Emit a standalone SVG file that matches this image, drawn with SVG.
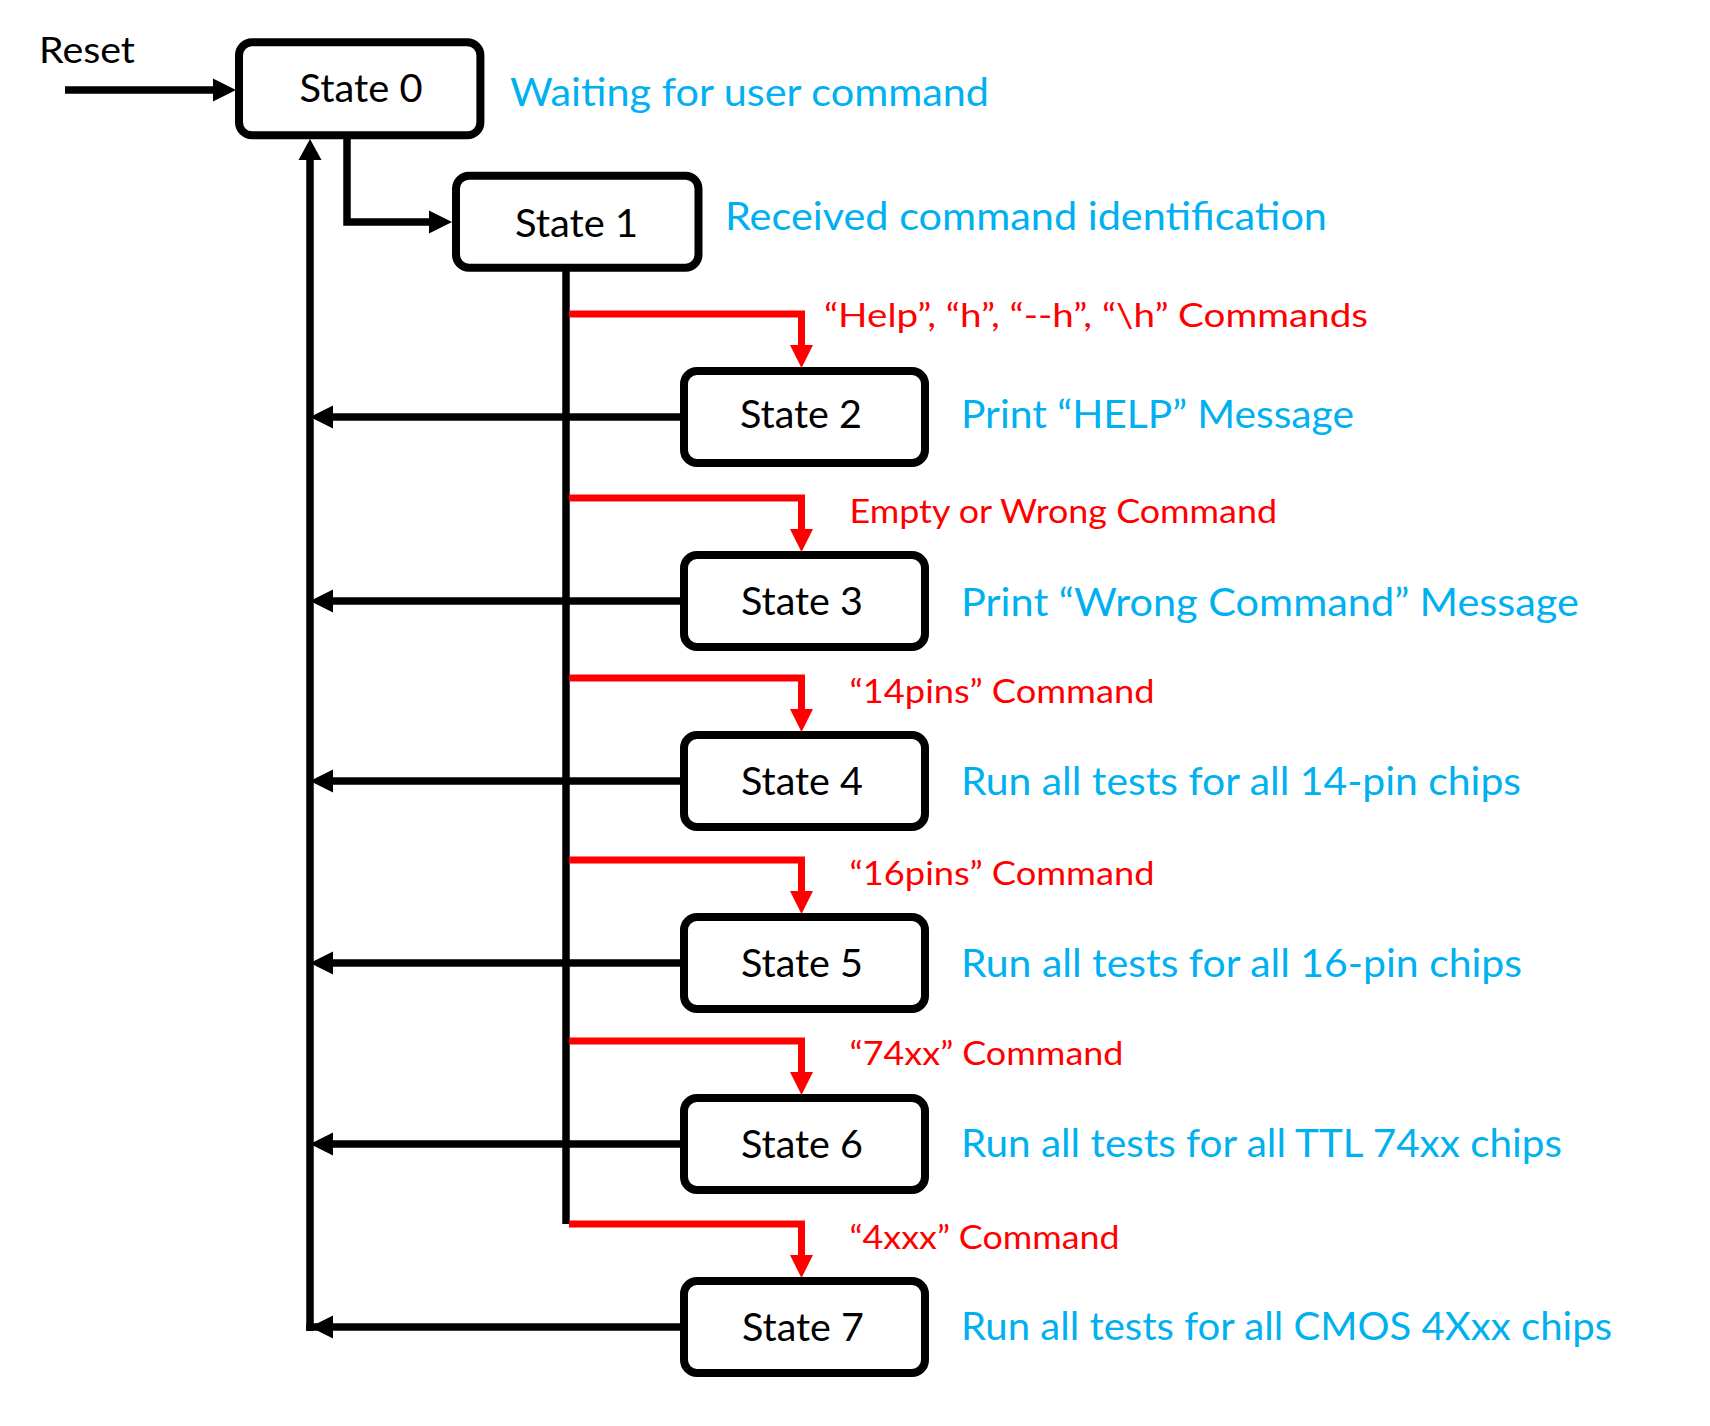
<svg xmlns="http://www.w3.org/2000/svg" width="1710" height="1426" viewBox="0 0 1710 1426">
<style>
.box{fill:#fff;stroke:#000;stroke-width:8}
.st{font-family:Lato,"Open Sans","Liberation Sans",sans-serif;font-size:38px;fill:#000;text-anchor:middle}
.bl{font-family:Lato,"Open Sans","Liberation Sans",sans-serif;font-size:38px;fill:#00B0F0}
.rd{font-family:Lato,"Open Sans","Liberation Sans",sans-serif;font-size:32.5px;fill:#FF0000}
.lbl{font-family:Lato,"Open Sans","Liberation Sans",sans-serif;font-size:37px;fill:#000}
.k{fill:none;stroke:#000;stroke-width:7.5}
.r{fill:none;stroke:#FF0000;stroke-width:7}
.ka{fill:#000}
.ra{fill:#FF0000}
</style>
<rect width="1710" height="1426" fill="#fff"/>
<g id="connectors">
  <!-- Reset arrow -->
  <line class="k" x1="65" y1="90" x2="216" y2="90"/>
  <polygon class="ka" points="213,78.5 236,90 213,101.5"/>
  <!-- State0 -> State1 -->
  <polyline class="k" points="347,139 347,222 432,222"/>
  <polygon class="ka" points="429,210.5 452,222 429,233.5"/>
  <!-- feedback vertical -->
  <line class="k" x1="310" y1="157" x2="310" y2="1331"/>
  <polygon class="ka" points="298.5,160 310,139 321.5,160"/>
  <!-- State1 vertical bus -->
  <line class="k" x1="566" y1="271" x2="566" y2="1224"/>
  <!-- back arrows -->
  <line class="k" x1="680" y1="417" x2="330" y2="417"/>
  <polygon class="ka" points="333,405.5 310,417 333,428.5"/>
  <line class="k" x1="680" y1="601" x2="330" y2="601"/>
  <polygon class="ka" points="333,589.5 310,601 333,612.5"/>
  <line class="k" x1="680" y1="781" x2="330" y2="781"/>
  <polygon class="ka" points="333,769.5 310,781 333,792.5"/>
  <line class="k" x1="680" y1="963" x2="330" y2="963"/>
  <polygon class="ka" points="333,951.5 310,963 333,974.5"/>
  <line class="k" x1="680" y1="1144" x2="330" y2="1144"/>
  <polygon class="ka" points="333,1132.5 310,1144 333,1155.5"/>
  <line class="k" x1="680" y1="1327" x2="306.25" y2="1327"/>
  <polygon class="ka" points="333,1315.5 310,1327 333,1338.5"/>
  <!-- red branches -->
  <polyline class="r" points="569,314 801.5,314 801.5,346"/>
  <polygon class="ra" points="790,345 813,345 801.5,368"/>
  <polyline class="r" points="569,498 801.5,498 801.5,530"/>
  <polygon class="ra" points="790,529 813,529 801.5,552"/>
  <polyline class="r" points="569,678 801.5,678 801.5,710"/>
  <polygon class="ra" points="790,709 813,709 801.5,732"/>
  <polyline class="r" points="569,860 801.5,860 801.5,892"/>
  <polygon class="ra" points="790,891 813,891 801.5,914"/>
  <polyline class="r" points="569,1041 801.5,1041 801.5,1073"/>
  <polygon class="ra" points="790,1072 813,1072 801.5,1095"/>
  <polyline class="r" points="569,1224 801.5,1224 801.5,1256"/>
  <polygon class="ra" points="790,1255 813,1255 801.5,1278"/>
</g>
<g id="reset">
  <text class="lbl" x="39" y="63" textLength="96" lengthAdjust="spacingAndGlyphs">Reset</text>
</g>
<g id="state0">
  <rect class="box" x="239" y="42.3" width="241.4" height="93" rx="13"/>
  <text class="st" x="361" y="102" textLength="123" lengthAdjust="spacingAndGlyphs">State 0</text>
  <text class="bl" x="510" y="106" textLength="479" lengthAdjust="spacingAndGlyphs">Waiting for user command</text>
</g>
<g id="state1">
  <rect class="box" x="456" y="175.7" width="242.5" height="92" rx="13"/>
  <text class="st" x="576.5" y="237" textLength="123" lengthAdjust="spacingAndGlyphs">State 1</text>
  <text class="bl" x="725" y="230" textLength="602" lengthAdjust="spacingAndGlyphs">Received command identification</text>
</g>
<g id="state2">
  <rect class="box" x="684" y="371" width="241" height="92" rx="13"/>
  <text class="st" x="801" y="428" textLength="122" lengthAdjust="spacingAndGlyphs">State 2</text>
  <text class="rd" x="824" y="327" textLength="544" lengthAdjust="spacingAndGlyphs">“Help”, “h”, “--h”, “\h” Commands</text>
  <text class="bl" x="961" y="428" textLength="393" lengthAdjust="spacingAndGlyphs">Print “HELP” Message</text>
</g>
<g id="state3">
  <rect class="box" x="684" y="555" width="241" height="92" rx="13"/>
  <text class="st" x="802" y="615" textLength="122" lengthAdjust="spacingAndGlyphs">State 3</text>
  <text class="rd" x="849.5" y="523" textLength="427.5" lengthAdjust="spacingAndGlyphs">Empty or Wrong Command</text>
  <text class="bl" x="961" y="616" textLength="618" lengthAdjust="spacingAndGlyphs">Print “Wrong Command” Message</text>
</g>
<g id="state4">
  <rect class="box" x="684" y="735" width="241" height="92" rx="13"/>
  <text class="st" x="802" y="795" textLength="122" lengthAdjust="spacingAndGlyphs">State 4</text>
  <text class="rd" x="849.5" y="703" textLength="305" lengthAdjust="spacingAndGlyphs">“14pins” Command</text>
  <text class="bl" x="961" y="795" textLength="560" lengthAdjust="spacingAndGlyphs">Run all tests for all 14-pin chips</text>
</g>
<g id="state5">
  <rect class="box" x="684" y="917" width="241" height="92" rx="13"/>
  <text class="st" x="802" y="977" textLength="122" lengthAdjust="spacingAndGlyphs">State 5</text>
  <text class="rd" x="849.5" y="885" textLength="305" lengthAdjust="spacingAndGlyphs">“16pins” Command</text>
  <text class="bl" x="961" y="977" textLength="561" lengthAdjust="spacingAndGlyphs">Run all tests for all 16-pin chips</text>
</g>
<g id="state6">
  <rect class="box" x="684" y="1098" width="241" height="92" rx="13"/>
  <text class="st" x="802" y="1158" textLength="122" lengthAdjust="spacingAndGlyphs">State 6</text>
  <text class="rd" x="849.5" y="1065" textLength="274" lengthAdjust="spacingAndGlyphs">“74xx” Command</text>
  <text class="bl" x="961" y="1157" textLength="601" lengthAdjust="spacingAndGlyphs">Run all tests for all TTL 74xx chips</text>
</g>
<g id="state7">
  <rect class="box" x="684" y="1281" width="241" height="92" rx="13"/>
  <text class="st" x="803" y="1341" textLength="122" lengthAdjust="spacingAndGlyphs">State 7</text>
  <text class="rd" x="849.5" y="1249" textLength="270" lengthAdjust="spacingAndGlyphs">“4xxx” Command</text>
  <text class="bl" x="961" y="1340" textLength="651" lengthAdjust="spacingAndGlyphs">Run all tests for all CMOS 4Xxx chips</text>
</g>
</svg>
